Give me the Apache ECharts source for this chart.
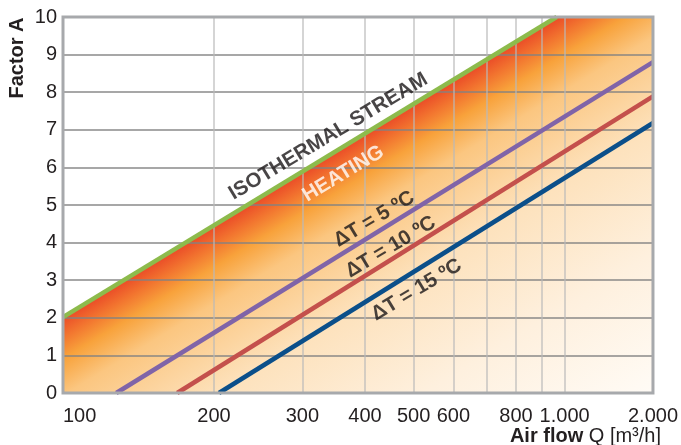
<!DOCTYPE html>
<html><head><meta charset="utf-8">
<script src="https://cdn.jsdelivr.net/npm/echarts@6/dist/echarts.min.js"></script>
<style>html,body{margin:0;padding:0;background:#fff}#c{width:681px;height:445px}</style>
</head><body><div id="c"></div>
<script>
// ---- data ----
const xMin = 100, xMax = 1500;                       // axis extent (Air flow Q, log scale)
const xGridQ = [100, 200, 300, 400, 500, 600, 700, 800, 900, 1000];
const xLabelQ = [100, 200, 300, 400, 500, 600, 800, 1000, 1500];
const xLabelText = ['100', '200', '300', '400', '500', '600', '800', '1.000', '2.000'];
const yMin = 0, yMax = 10, yStep = 1;

const isoQ = [100, 964];      const isoA = [2.02, 10];     // isothermal stream
const heatQ = [100, 964, 1500]; const heatA = [2.02, 10, 10]; // heating zone (below isothermal)
const dt5Q = [127.7, 1500];   const dt5A = [0, 8.80];
const dt10Q = [168.9, 1500];  const dt10A = [0, 7.89];
const dt15Q = [204.6, 1500];  const dt15A = [0, 7.18];

const labelText = ['ISOTHERMAL STREAM', 'HEATING', 'ΔT = 5 ºC', 'ΔT = 10 ºC', 'ΔT = 15 ºC'];
const labelQ = [338, 362, 417, 450, 507];
const labelA = [6.82, 5.83, 4.62, 3.88, 2.74];

// ---- styles ----
const FONT = '"Liberation Sans", Arial, Helvetica, sans-serif';
const TXT = '#1a1718';
const labelColor = [TXT, '#ffffff', TXT, TXT, TXT];

function zip(a, b) { return a.map((v, i) => [v, b[i]]); }
const L = Math.log10;

const chart = echarts.init(document.getElementById('c'), null, {renderer: 'canvas'});

const grad = new echarts.graphic.LinearGradient(63, 317, 281, 676, [
  {offset: 0, color: '#ea4a27'},
  {offset: 0.04, color: '#f2742f'},
  {offset: 0.085, color: '#f8a23b'},
  {offset: 0.16, color: '#fbc680'},
  {offset: 0.35, color: '#fde2bd'},
  {offset: 0.6, color: '#fef0de'},
  {offset: 0.85, color: '#fffaf3'},
  {offset: 1, color: '#ffffff'}
], true);

chart.setOption({
  animation: false,
  backgroundColor: '#ffffff',
  grid: {left: 63, right: 24, top: 17, bottom: 52, show: true, z: 10,
         borderColor: '#a7a9ac', borderWidth: 3, backgroundColor: 'transparent'},
  xAxis: [
    {type: 'log', logBase: 10, min: xMin, max: xMax, show: false, position: 'top', gridIndex: 0},
    {type: 'value', min: L(xMin), max: L(xMax), position: 'bottom', gridIndex: 0, z: 2,
     axisLine: {show: false},
     axisTick: {show: false, customValues: xGridQ.map(L)},
     splitLine: {show: true, lineStyle: {color: 'rgba(185,185,185,0.6)', width: 2}},
     axisLabel: {
       customValues: xLabelQ.map(L),
       formatter: function (v) {
         for (let i = 0; i < xLabelQ.length; i++) if (Math.abs(L(xLabelQ[i]) - v) < 1e-6) return xLabelText[i];
         return '';
       },
       fontSize: 20, color: '#231f20', fontFamily: FONT, margin: 13,
       showMinLabel: true, showMaxLabel: true, alignMinLabel: 'left'
     }}
  ],
  yAxis: {type: 'value', min: yMin, max: yMax, interval: yStep, z: 2,
    axisLine: {show: false}, axisTick: {show: false},
    axisLabel: {fontSize: 20, color: '#231f20', fontFamily: FONT, margin: 6},
    splitLine: {show: true, lineStyle: {color: 'rgba(130,130,130,0.7)', width: 2}}
  },
  graphic: [
    {type: 'text', x: 17, y: 58, rotation: Math.PI / 2, z: 20,
     style: {text: 'Factor A', font: 'bold 20px ' + FONT, fill: '#231f20', align: 'center', verticalAlign: 'middle'}},
    {type: 'text', x: 661, y: 436, z: 20,
     style: {text: '{b|Air flow }{n|Q [m³/h]}', fill: '#231f20', align: 'right', verticalAlign: 'middle',
       rich: {b: {fontWeight: 'bold', fontSize: 20, fontFamily: FONT, fill: '#231f20'},
              n: {fontSize: 20, fontFamily: FONT, fill: '#231f20'}}}}
  ],
  series: [
    {type: 'line', name: 'Heating', xAxisIndex: 0, data: zip(heatQ, heatA), symbol: 'none', silent: true, z: 1,
     lineStyle: {width: 0}, areaStyle: {color: grad, opacity: 1}},
    {type: 'line', name: 'Isothermal', xAxisIndex: 0, data: zip(isoQ, isoA), symbol: 'none', z: 3,
     lineStyle: {color: '#8dbb4c', width: 4.5}},
    {type: 'line', name: 'dT5', xAxisIndex: 0, data: zip(dt5Q, dt5A), symbol: 'none', z: 3,
     lineStyle: {color: '#8064a8', width: 4.5}},
    {type: 'line', name: 'dT10', xAxisIndex: 0, data: zip(dt10Q, dt10A), symbol: 'none', z: 3,
     lineStyle: {color: '#c4504c', width: 4.5}},
    {type: 'line', name: 'dT15', xAxisIndex: 0, data: zip(dt15Q, dt15A), symbol: 'none', z: 3,
     lineStyle: {color: '#0b4f8a', width: 4.5}},
    {type: 'scatter', name: 'labels', xAxisIndex: 0, symbolSize: 0, z: 4, silent: true,
     data: labelText.map((t, i) => ({
       value: [labelQ[i], labelA[i]],
       label: {show: true, formatter: t, position: 'inside', rotate: 31,
               color: labelColor[i], fontSize: 20.5, fontWeight: 'bold', fontFamily: FONT,
               align: 'center', verticalAlign: 'middle'}
     }))}
  ]
});
</script>
</body></html>
